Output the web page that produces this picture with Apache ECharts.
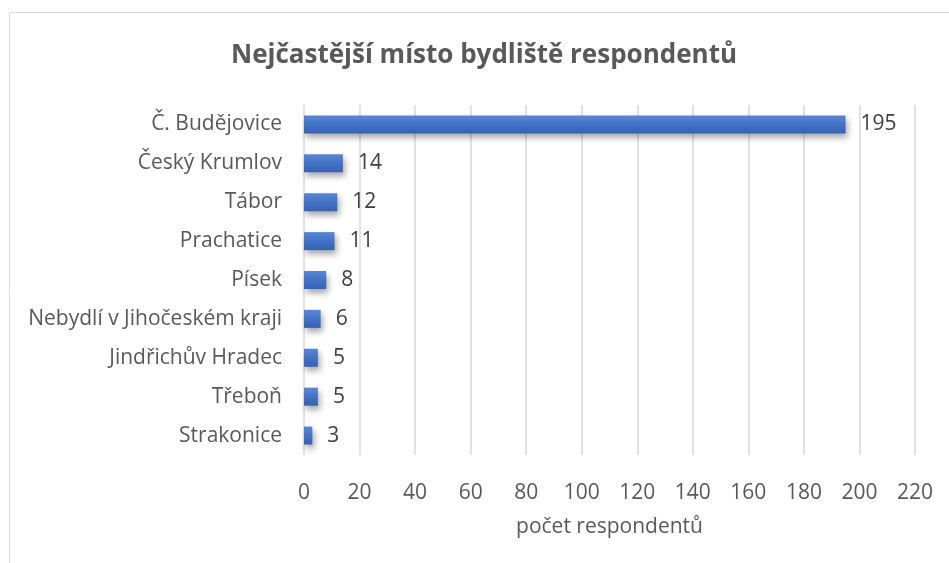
<!DOCTYPE html>
<html>
<head>
<meta charset="utf-8">
<script src="https://cdn.jsdelivr.net/npm/echarts@6/dist/echarts.min.js"></script>
<style>
	html, body { margin: 0; padding: 0; background: #fff; }
	#chart { width: 949px; height: 563px; }
</style>
</head>
<body>
<div id="chart"></div>
<script>
// data
const mesta = ['Č. Budějovice', 'Český Krumlov', 'Tábor', 'Prachatice', 'Písek',
	'Nebydlí v Jihočeském kraji', 'Jindřichův Hradec', 'Třeboň', 'Strakonice'];
const pocty = [195, 14, 12, 11, 8, 6, 5, 5, 3];

const font = '"Open Sans", sans-serif';
const chart = echarts.init(document.getElementById('chart'));

chart.setOption({
	animation: false,
	textStyle: { fontFamily: font },
	title: {
		text: 'Nejčastější místo bydliště respondentů',
		left: 226,
		top: 38,
		textStyle: { fontSize: 26, fontWeight: 'bold', color: '#595959', fontFamily: font }
	},
	graphic: [{
		type: 'rect',
		shape: { x: 9.5, y: 12.5, width: 1200, height: 1000 },
		style: { fill: 'none', stroke: '#D9D9D9', lineWidth: 1 },
		silent: true
	}],
	grid: { left: 304, right: 34, top: 105, bottom: 108, containLabel: false },
	xAxis: {
		type: 'value',
		min: 0,
		max: 220,
		interval: 20,
		name: 'počet respondentů',
		nameLocation: 'middle',
		nameGap: 62,
		nameTextStyle: { fontSize: 21, color: '#595959' },
		axisLine: { show: false },
		axisTick: { show: false },
		axisLabel: { fontSize: 21, color: '#595959', margin: 28 },
		splitLine: { lineStyle: { color: '#D9D9D9', width: 1.5 } }
	},
	yAxis: {
		type: 'category',
		inverse: true,
		data: mesta,
		axisLine: { show: false },
		axisTick: { show: false },
		axisLabel: { fontSize: 21, color: '#595959', margin: 22 }
	},
	series: [{
		type: 'bar',
		data: pocty,
		barWidth: 18,
		itemStyle: {
			color: new echarts.graphic.LinearGradient(0, 0, 0, 1, [
				{ offset: 0, color: '#5A86D5' },
				{ offset: 0.5, color: '#4472C4' },
				{ offset: 1, color: '#3761B5' }
			]),
			shadowColor: 'rgba(0,0,0,0.35)',
			shadowBlur: 6,
			shadowOffsetX: 2,
			shadowOffsetY: 4
		},
		label: {
			show: true,
			position: 'right',
			distance: 15,
			fontSize: 21,
			color: '#404040'
		}
	}]
});
</script>
</body>
</html>
